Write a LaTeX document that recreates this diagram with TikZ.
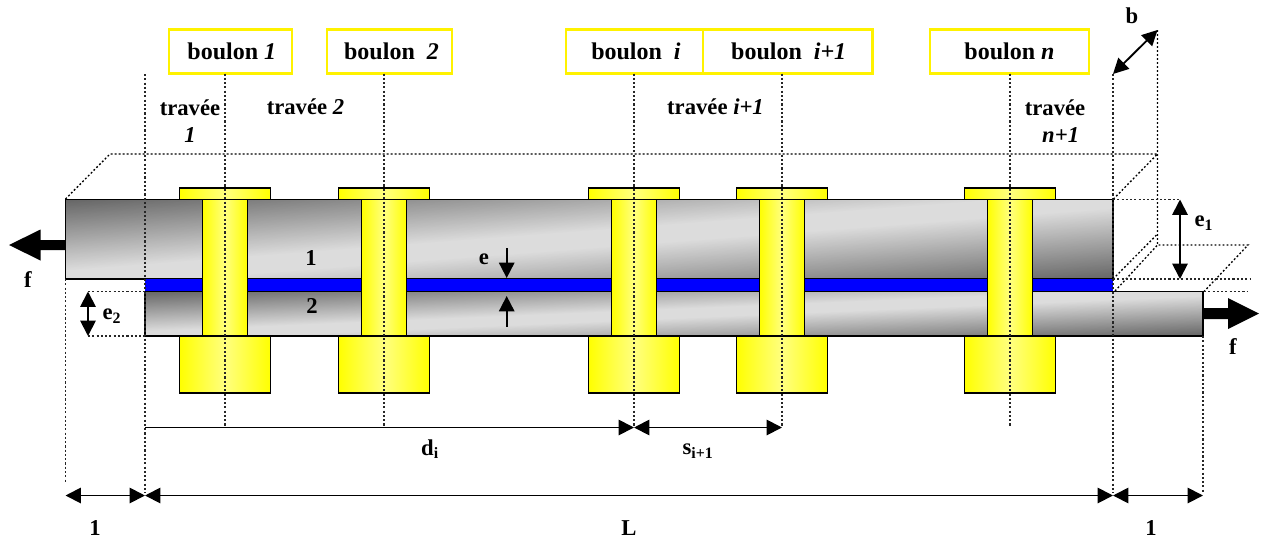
\documentclass[tikz,border=0pt]{standalone}
\usepackage{fontspec}
\setmainfont{Liberation Serif}
\usetikzlibrary{arrows.meta}
\definecolor{plateD}{HTML}{666666}
\definecolor{plateL}{HTML}{DCDCDC}
\definecolor{boltL}{HTML}{FFFF80}
\newcommand{\gradplate}[4]{%
  \begin{scope}
  \clip (#1,#2) rectangle (#3,#4);
  \pgfmathsetmacro{\gw}{#3-#1}
  \fill[plateD] (#1,#2) rectangle (#3,#4);
  \foreach \k in {1,...,200}{
    \pgfmathsetmacro{\gc}{\k/100}
    \pgfmathsetmacro{\gp}{100*min(1,1.12*(1-abs(\gc-1)))}
    \pgfmathsetmacro{\gxt}{#1+\gc*\gw}
    \pgfmathsetmacro{\gxb}{#1+(\gc-1)*\gw}
    \pgfmathsetmacro{\gxe}{#3+\gw+5}
    \fill[plateL!\gp!plateD] (\gxt,#2) -- (\gxb,#4) -- (\gxe,#4) -- (\gxe,#2) -- cycle;
  }
  \end{scope}
  \draw[edge] (#1,#2) rectangle (#3,#4);
}
\newcommand{\boltat}[2]{%
  \path[bolt] (#1-22.5,199.5) rectangle (#1+22.5,335.7);
  \path[bolt] (#1-45.5,188) rectangle (#1+45.5,199.5);
  \path[bolt] (#1-45.5,335.7) rectangle (#1+45.5,392.7);
  \coordinate (#2) at (#1,427.5);
}
\tikzset{
  x=0.75pt,y=-0.75pt,
  edge/.style={draw=black,line width=1.4pt},
  bolt/.style={draw=black,line width=1.4pt,left color=yellow,right color=yellow,middle color=boltL},
  labelbox/.style={draw=yellow,line width=1.7pt,fill=white,minimum height=33pt,inner sep=0pt,font=\fontsize{18}{20}\selectfont\bfseries},
  lab/.style={inner sep=0pt,font=\fontsize{17}{20}\selectfont\bfseries,align=center},
  dotline/.style={line width=0.9pt,dash pattern=on 1.6pt off 1.6pt,black!85},
  dotblack/.style={line width=1pt,dash pattern=on 1.4pt off 1.6pt,black},
  dim/.style={line width=1.4pt,black},
  tipboth/.style={dim,{Triangle[length=11.5pt,width=11.5pt]}-{Triangle[length=11.5pt,width=11.5pt]}},
  tipend/.style={dim,-{Triangle[length=11.5pt,width=11.5pt]}},
}
\begin{document}
\begin{tikzpicture}
\useasboundingbox (0,0) rectangle (1261,540);
\fill[white] (0,0) rectangle (1261,540);
% plates and interlayer
\gradplate{65.5}{199.5}{1113}{279}
\gradplate{145}{291.5}{1203}{336}
\fill[blue] (145,278) rectangle (1113,291.5);
\draw[black,line width=0.5pt] (145,278) -- (1113,278) (145,291.5) -- (1113,291.5);
% bolts
\boltat{225}{c1}
\boltat{384}{c2}
\boltat{634}{c3}
\boltat{782}{c4}
\boltat{1010}{c5}
% label boxes
\node[labelbox,minimum width=92pt] (b1) at (230.3,51.5) {\hspace*{2.2pt}boulon \textit{1}};
\node[labelbox,minimum width=94pt] (b2) at (389.5,51.5) {\hspace*{3pt}boulon \ \textit{2}};
\node[labelbox,minimum width=103pt] (b3) at (634.5,51.5) {\hspace*{2.2pt}boulon \ \textit{i}};
\node[labelbox,minimum width=127pt] (b4) at (787.7,51.5) {\hspace*{1.5pt}boulon \ \textit{i+1}};
\node[labelbox,minimum width=119pt] (b5) at (1009.5,51.5) {boulon \textit{n}};
% guide lines
\coordinate (t1) at (225,73.5);
\coordinate (t2) at (384,73.5);
\coordinate (t3) at (634,73.5);
\coordinate (t4) at (782,73.5);
\coordinate (t5) at (1010,73.5);
\foreach \n in {1,...,5}{\draw[dotline] (t\n) -- (c\n);}
\coordinate (la) at (65.5,279);
\coordinate (lb) at (65.5,482);
\coordinate (ma) at (145,74);
\coordinate (mb) at (145,493);
\coordinate (ra) at (1113,74);
\coordinate (rb) at (1113,493);
\coordinate (ea) at (1203,336);
\coordinate (eb) at (1203,493);
\draw[dotline] (la) -- (lb);
\draw[dotline] (ma) -- (mb);
\draw[dotline] (ra) -- (rb);
\draw[dotline] (ea) -- (eb);
% box outline
\coordinate (bA) at (65.5,199);
\coordinate (bB) at (110,154);
\coordinate (bC) at (1157.5,154);
\coordinate (bD) at (1113,199.5);
\coordinate (bE) at (1157.5,30);
\coordinate (bF) at (1157.5,245);
\coordinate (bG) at (1248,245);
\coordinate (bH) at (1204,291.5);
\coordinate (bI) at (1113,74);
\draw[dotblack] (bA) -- (bB) -- (bC) -- (bD);
\draw[dotblack] (bE) -- (bF) -- (bG) -- (bH);
\draw[dotblack] (1113,279) -- (1157.5,234);
\draw[dotblack] (1115,291) -- (bF);
\draw[dotline] (bD) -- (1180,199.5);
\draw[dotline] (1113,279) -- (1250,279);
\draw[dotline] (bH) -- (1248,291.5);
\draw[dotline] (88,291.5) -- (145,291.5);
\draw[dotline] (88,336) -- (145,336);
% force arrows
\fill[black] (65.5,240) -- (40.5,240) -- (40.5,229.5) -- (9,245) -- (40.5,260.5) -- (40.5,250) -- (65.5,250) -- cycle;
\fill[black] (1203,308) -- (1228,308) -- (1228,298) -- (1259,313.5) -- (1228,329) -- (1228,319) -- (1203,319) -- cycle;
% dimension arrows
\coordinate (e2a) at (88,291.5);
\coordinate (e2b) at (88,336);
\coordinate (e1a) at (1180,199.5);
\coordinate (e1b) at (1180,279);
\draw[tipboth] (e2a) -- (e2b);
\draw[tipboth] (e1a) -- (e1b);
\draw[tipboth] (bI) -- (bE);
\draw[tipend] (506.7,248) -- (506.7,278);
\draw[tipend] (506.7,326.7) -- (506.7,296);
\coordinate (d0) at (145,427.5);
\draw[tipend] (d0) -- (c3);
\draw[tipboth] (c3) -- (c4);
\coordinate (d1) at (65.5,495.5);
\coordinate (d2) at (145,495.5);
\coordinate (d3) at (1113,495.5);
\coordinate (d4) at (1203,495.5);
\draw[tipboth] (d1) -- (d2);
\draw[tipboth] (d2) -- (d3);
\draw[tipboth] (d3) -- (d4);
% labels
\node[lab] (t01) at (190,121) {travée\\\textit{1}};
\node[lab] (t02) at (305.5,107) {travée \textit{2}};
\node[lab] (t03) at (715.5,107) {travée \textit{i+1}};
\node[lab] (t04) at (1055,121) {travée\\\ \ \textit{n+1}};
\node[lab] (n1) at (311,258) {1};
\node[lab] (n2) at (312,306) {2};
\node[lab] (fl) at (28,280) {f};
\node[lab] (fr) at (1233,347) {f};
\node[lab] (le) at (484,259) {e};
\node[lab] (le2) at (112,316) {e\textsubscript{2}};
\node[lab] (le1) at (1204,223) {e\textsubscript{1}};
\node[lab] (lb2) at (1132,16) {b};
\node[lab] (ld) at (430,449) {d\textsubscript{i}};
\node[lab] (ls) at (698,451) {s\textsubscript{i+1}};
\node[lab] (l1) at (95,528) {1};
\node[lab] (lL) at (629,528) {L};
\node[lab] (l2) at (1151,528) {1};
\end{tikzpicture}
\end{document}
